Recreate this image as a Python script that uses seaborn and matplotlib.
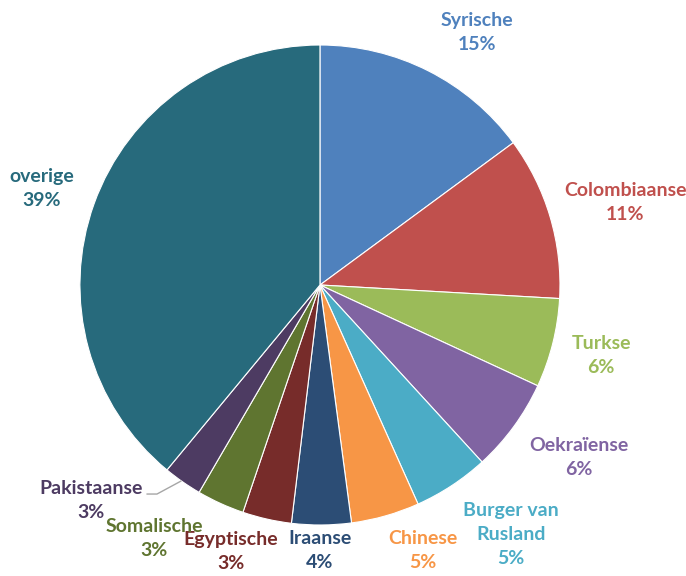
import matplotlib
matplotlib.use("Agg")
import matplotlib.pyplot as plt
import numpy as np
import seaborn as sns

sns.set_theme(style="white")
plt.rcParams["font.family"] = ["Lato", "DejaVu Sans"]

# Aandeel per nationaliteit (geschat uit de afbeelding, in procenten)
labels = ["Syrische", "Colombiaanse", "Turkse", "Oekraïense", "Burger van\nRusland",
          "Chinese", "Iraanse", "Egyptische", "Somalische", "Pakistaanse", "overige"]
values = [14.9, 11.0, 6.0, 6.3, 5.1, 4.6, 4.0, 3.3, 3.2, 2.6, 39.0]
colors = ["#4F81BD", "#C0504D", "#9BBB59", "#8064A2", "#4BACC6", "#F79646",
          "#2C4D75", "#772C2A", "#5F7530", "#4D3B62", "#276A7C"]

# positie van de labels (eenheden van de straal)
label_pos = [(0.654, 1.054), (1.271, 0.342), (1.171, -0.292), (1.079, -0.717),
             (0.796, -1.04), (0.429, -1.105), (0.0, -1.105), (-0.371, -1.11),
             (-0.692, -1.055), (-0.954, -0.896), (-1.158, 0.404)]

fig = plt.figure(figsize=(6.86, 5.76), dpi=100)
ax = fig.add_axes([0, 0, 1, 1])
ax.pie(values, colors=colors, startangle=90, counterclock=False, radius=1.0,
       wedgeprops=dict(edgecolor="white", linewidth=0.8))

line_h = 0.1  # regelafstand (ca. 24 px)
for name, val, col, (x, y) in zip(labels, values, colors, label_pos):
    lines = name.split("\n") + [f"{val:.0f}%"]
    top = y + line_h * (len(lines) - 1) / 2
    for i, txt in enumerate(lines):
        ax.text(x, top - i * line_h, txt, color=col, fontsize=14, fontweight="bold",
                ha="center", va="center")

# leader line voor Pakistaanse
ax.plot([-0.721, -0.679, -0.579], [-0.871, -0.871, -0.817], color="#A6A6A6", lw=1)

ax.set_xlim(-1.333, 1.525)
ax.set_ylim(-1.2125, 1.1875)
ax.set_aspect("auto")
ax.axis("off")

fig.savefig("out.png", dpi=100)
